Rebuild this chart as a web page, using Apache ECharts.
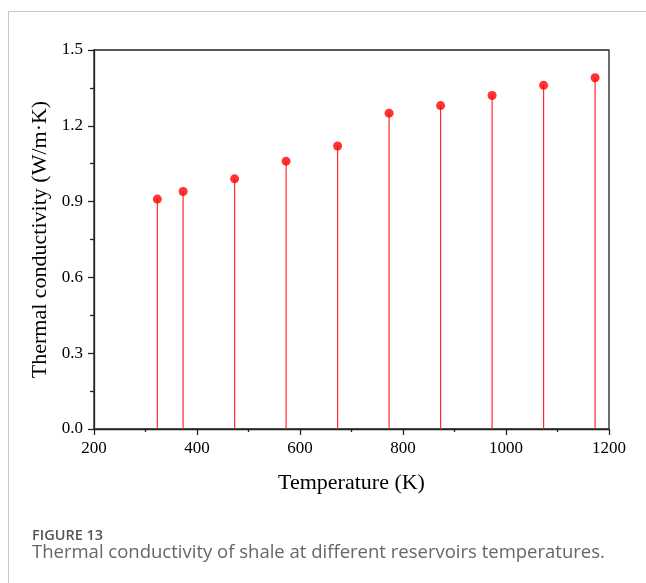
<!DOCTYPE html>
<html>
<head>
<meta charset="utf-8">
<script src="https://cdn.jsdelivr.net/npm/echarts@6/dist/echarts.min.js"></script>
<style>
  html, body { margin: 0; padding: 0; background: #fff; }
  #chart { width: 646px; height: 583px; }
</style>
</head>
<body>
<div id="chart"></div>
<script>
// Reservoir temperatures (K) and measured thermal conductivity (W/m·K)
const temperatures = [323, 373, 473, 573, 673, 773, 873, 973, 1073, 1173];
const conductivity = [0.91, 0.94, 0.99, 1.06, 1.12, 1.25, 1.28, 1.32, 1.36, 1.39];

const points = temperatures.map((t, i) => [t, conductivity[i]]);

const chart = echarts.init(document.getElementById('chart'), null, { renderer: 'canvas' });
const serif = 'Liberation Serif';
const axisColor = '#222';

chart.setOption({
  animation: false,
  backgroundColor: '#fff',
  grid: {
    left: 94, right: 37, top: 50, bottom: 154,
    show: true, borderColor: axisColor, borderWidth: 1.3
  },
  xAxis: {
    type: 'value', min: 200, max: 1200, interval: 200,
    name: 'Temperature (K)', nameLocation: 'middle', nameGap: 43,
    nameTextStyle: { fontFamily: serif, fontSize: 22, color: '#000' },
    axisLine: { show: true, lineStyle: { color: axisColor, width: 1.3 } },
    axisTick: { show: true, inside: false, length: 6, lineStyle: { color: axisColor, width: 1.3 } },
    minorTick: { show: true, splitNumber: 2, length: 3, lineStyle: { color: axisColor, width: 1.3 } },
    axisLabel: { fontFamily: serif, fontSize: 17, color: '#000', margin: 11,
      formatter: v => String(v) },
    splitLine: { show: false }
  },
  yAxis: {
    type: 'value', min: 0, max: 1.5, interval: 0.3,
    name: 'Thermal conductivity (W/m·K)', nameLocation: 'middle', nameGap: 40,
    nameTextStyle: { fontFamily: serif, fontSize: 22, color: '#000' },
    axisLine: { show: true, lineStyle: { color: axisColor, width: 1.3 } },
    axisTick: { show: true, inside: false, length: 6, lineStyle: { color: axisColor, width: 1.3 } },
    minorTick: { show: true, splitNumber: 2, length: 4, lineStyle: { color: axisColor, width: 1.3 } },
    axisLabel: { fontFamily: serif, fontSize: 17, color: '#000', margin: 11,
      formatter: v => v.toFixed(1) },
    splitLine: { show: false }
  },
  series: [
    {
      // vertical drop lines from the baseline to each value
      type: 'custom',
      data: points,
      renderItem: (params, api) => {
        const top = api.coord([api.value(0), api.value(1)]);
        const base = api.coord([api.value(0), 0]);
        return {
          type: 'line',
          shape: { x1: top[0], y1: top[1], x2: base[0], y2: base[1] },
          style: { stroke: '#ff2a2a', lineWidth: 1.2 }
        };
      },
      z: 2
    },
    {
      type: 'scatter',
      data: points,
      symbol: 'circle',
      symbolSize: 9,
      itemStyle: { color: '#ff0000' },
      z: 3
    }
  ],
  graphic: [
    { type: 'line', shape: { x1: 8, y1: 11.5, x2: 646, y2: 11.5 }, style: { stroke: '#c8c8c8', lineWidth: 1 } },
    { type: 'line', shape: { x1: 8.5, y1: 11, x2: 8.5, y2: 583 }, style: { stroke: '#c8c8c8', lineWidth: 1 } },
    { type: 'text', left: 32, top: 528,
      style: { text: 'FIGURE 13', fontFamily: 'Open Sans', fontSize: 14.5, fontWeight: 600, fill: '#555' } },
    { type: 'text', left: 32, top: 543,
      style: { text: 'Thermal conductivity of shale at different reservoirs temperatures.', fontFamily: 'Open Sans', fontSize: 18.5, fill: '#666' } }
  ]
});
</script>
</body>
</html>
